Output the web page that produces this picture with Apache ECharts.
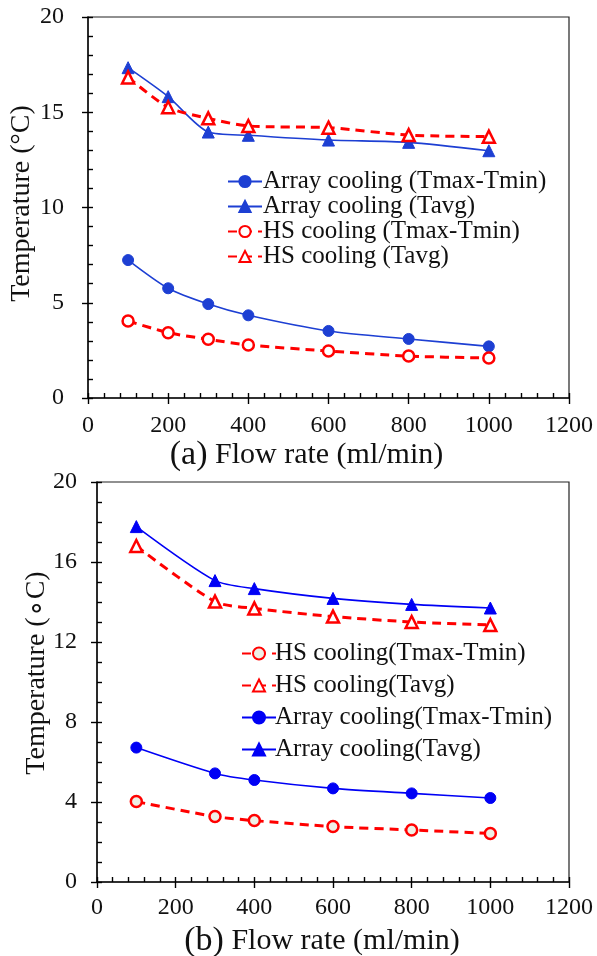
<!DOCTYPE html>
<html>
<head>
<meta charset="utf-8">
<script src="https://cdn.jsdelivr.net/npm/echarts@6/dist/echarts.min.js"></script>
<style>html,body{margin:0;padding:0;background:#fff}#c{width:597px;height:956px}</style>
</head>
<body>
<div id="c"></div>
<script>
// Panel (a)
const flowA = [100, 200, 300, 400, 600, 800, 1000];
const arrayDeltaA = [7.24, 5.76, 4.93, 4.34, 3.52, 3.10, 2.71];
const arrayAvgA   = [17.34, 15.82, 13.96, 13.79, 13.54, 13.42, 12.98];
const hsDeltaA    = [4.04, 3.43, 3.08, 2.78, 2.47, 2.20, 2.10];
const hsAvgA      = [16.83, 15.26, 14.68, 14.28, 14.19, 13.80, 13.72];
const namesA = ['Array cooling (Tmax-Tmin)', 'Array cooling (Tavg)', 'HS cooling (Tmax-Tmin)', 'HS cooling (Tavg)'];
// Panel (b)
const flowB = [100, 300, 400, 600, 800, 1000];
const hsDeltaB    = [4.02, 3.27, 3.07, 2.77, 2.60, 2.43];
const hsAvgB      = [16.80, 14.02, 13.68, 13.27, 13.00, 12.85];
const arrayDeltaB = [6.72, 5.43, 5.10, 4.68, 4.43, 4.20];
const arrayAvgB   = [17.77, 15.07, 14.67, 14.18, 13.88, 13.70];
const namesB = ['HS cooling(Tmax-Tmin)', 'HS cooling(Tavg)', 'Array cooling(Tmax-Tmin)', 'Array cooling(Tavg)'];

const FONT = 'Liberation Serif';
const pairs = (xs, ys) => xs.map((x, i) => [x, ys[i]]);
const plain = v => String(v);
const TICK = { color: '#000', width: 1.4 };

function xAxisMain(grid, name, nameGap, pad, labelMargin) {
  return {
    type: 'value', gridIndex: grid, position: 'bottom', min: 0, max: 1200, interval: 200,
    name: name, nameLocation: 'middle', nameGap: nameGap, nameMoveOverlap: false,
    nameTextStyle: { fontFamily: FONT, fontSize: 30, color: '#111', padding: pad,
      rich: { p: { fontFamily: FONT, fontSize: 34, color: '#111' } } },
    axisLine: { show: true, onZero: false, lineStyle: { color: '#111', width: 1.5 } },
    axisTick: { show: true, inside: true, length: 5, lineStyle: TICK },
    minorTick: { show: true, splitNumber: 5, length: 5, lineStyle: TICK },
    axisLabel: { fontFamily: FONT, fontSize: 24, color: '#111', margin: labelMargin, formatter: plain },
    splitLine: { show: false }
  };
}
function xAxisOut(grid) {
  return {
    type: 'value', gridIndex: grid, position: 'bottom', offset: 0, min: 0, max: 1200, interval: 200,
    axisLine: { show: false }, axisLabel: { show: false }, splitLine: { show: false },
    axisTick: { show: true, inside: false, length: 6, lineStyle: TICK }
  };
}
function yAxisMain(grid, interval, name, nameGap, pad, labelMargin) {
  return {
    type: 'value', gridIndex: grid, position: 'left', min: 0, max: 20, interval: interval,
    name: name, nameLocation: 'middle', nameGap: nameGap, nameRotate: 90, nameMoveOverlap: false,
    nameTextStyle: { fontFamily: FONT, fontSize: 28, color: '#111', padding: pad },
    axisLine: { show: true, onZero: false, lineStyle: { color: '#111', width: 1.5 } },
    axisTick: { show: true, inside: true, length: 5, lineStyle: TICK },
    minorTick: { show: true, splitNumber: interval, length: 5, lineStyle: TICK },
    axisLabel: { fontFamily: FONT, fontSize: 24, color: '#111', margin: labelMargin, formatter: plain },
    splitLine: { show: false }
  };
}
function yAxisOut(grid, interval) {
  return {
    type: 'value', gridIndex: grid, position: 'left', offset: 0, min: 0, max: 20, interval: interval,
    axisLine: { show: false }, axisLabel: { show: false }, splitLine: { show: false },
    axisTick: { show: true, inside: false, length: 6, lineStyle: TICK }
  };
}

function series(name, xi, yi, data, color, solid, filled, sym, faceColor) {
  return {
    name: name, type: 'line', xAxisIndex: xi, yAxisIndex: yi, data: data,
    smooth: 0.25, symbol: sym, symbolSize: sym === 'triangle' ? 12 : 11,
    showSymbol: true,
    lineStyle: solid ? { color: color, width: 1.6, type: 'solid' }
                     : { color: color, width: 3, type: [9, 6] },
    itemStyle: filled ? { color: color, borderColor: color, borderWidth: 1 }
                      : { color: faceColor, borderColor: color, borderWidth: 2.5 },
    z: 3
  };
}

const blueA = '#1d3fd3', blueB = '#0000f5', red = '#ff0000';

const option = {
  animation: false,
  backgroundColor: '#fff',
  grid: [
    { left: 88, top: 17, right: 28, height: 381, containLabel: false, outerBoundsMode: 'none',
      show: true, borderColor: '#222', borderWidth: 1.2, backgroundColor: 'transparent' },
    { left: 97, top: 482, right: 28, height: 400, containLabel: false, outerBoundsMode: 'none',
      show: true, borderColor: '#222', borderWidth: 1.2, backgroundColor: 'transparent' }
  ],
  xAxis: [
    xAxisMain(0, '{p|(a)} Flow rate (ml/min)', 40, [0, 44, 0, 0], 16),
    xAxisOut(0),
    xAxisMain(1, '{p|(b)} Flow rate (ml/min)', 42, [0, 22, 0, 0], 14),
    xAxisOut(1)
  ],
  yAxis: [
    yAxisMain(0, 5, 'Temperature (°C)', 52, [0, 0, 0, 8], 24),
    yAxisOut(0, 5),
    yAxisMain(1, 4, 'Temperature (∘C)', 46, [0, 0, 0, 18], 20),
    yAxisOut(1, 4)
  ],
  legend: [
    {
      data: namesA, orient: 'vertical', left: 222, top: 164, itemGap: 0,
      itemWidth: 34, itemHeight: 14,
      textStyle: { fontFamily: FONT, fontSize: 25, color: '#111', padding: [0, 0, 0, -4] }
    },
    {
      data: namesB, orient: 'vertical', left: 236, top: 636, itemGap: 7,
      itemWidth: 34, itemHeight: 15,
      textStyle: { fontFamily: FONT, fontSize: 25, color: '#111', padding: [0, 0, 0, -6] }
    }
  ],
  series: [
    series(namesA[0], 0, 0, pairs(flowA, arrayDeltaA), blueA, true, true, 'circle'),
    series(namesA[1], 0, 0, pairs(flowA, arrayAvgA), blueA, true, true, 'triangle'),
    series(namesA[2], 0, 0, pairs(flowA, hsDeltaA), red, false, false, 'circle', '#ffffff'),
    series(namesA[3], 0, 0, pairs(flowA, hsAvgA), red, false, false, 'triangle', '#ffffff'),
    series(namesB[0], 2, 2, pairs(flowB, hsDeltaB), red, false, false, 'circle', '#eef0e6'),
    series(namesB[1], 2, 2, pairs(flowB, hsAvgB), red, false, false, 'triangle', '#ffffff'),
    series(namesB[2], 2, 2, pairs(flowB, arrayDeltaB), blueB, true, true, 'circle'),
    series(namesB[3], 2, 2, pairs(flowB, arrayAvgB), blueB, true, true, 'triangle')
  ]
};
const chart = echarts.init(document.getElementById('c'), null, { renderer: 'canvas' });
chart.setOption(option);
</script>
</body>
</html>
